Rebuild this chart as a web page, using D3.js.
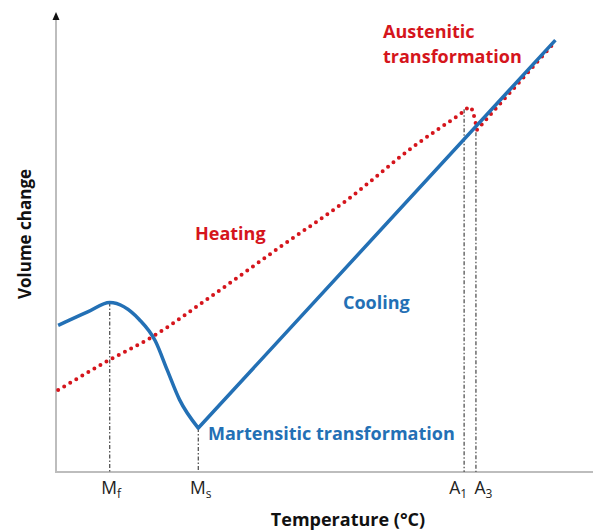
<!DOCTYPE html>
<html>
<head>
<meta charset="utf-8">
<script src="https://cdn.jsdelivr.net/npm/d3@7"></script>
<style>
  html, body { margin: 0; padding: 0; background: #fff; }
  svg { display: block; }
  text { font-family: "Open Sans", Lato, sans-serif; }
</style>
</head>
<body>
<svg id="chart" width="593" height="530"></svg>
<script>
// Dilatometry curve: specimen volume versus temperature (arbitrary units 0–100)

// Cooling branch: martensite finish peak, drop to martensite start, then linear contraction
const coolingCurveT = [0.4, 6, 10, 15.5, 18.5, 20.7, 23, 26.5];
const coolingCurveV = [32, 35, 37, 33.3, 28.6, 22.3, 15.8, 9.6];
const coolingLineT = [26.5, 93];
const coolingLineV = [9.6, 94.3];

// Heating branch: steady expansion up to the austenitic kink
const heatingCurveT = [0.4, 10, 17.9, 28.7, 41.7, 54.2, 66.5, 75.8, 77.1, 78.4];
const heatingCurveV = [17.9, 24.5, 29.5, 38.2, 49.1, 59.4, 71.0, 78.6, 79.7, 74.7];
// then linear expansion of austenite
const heatingLineT = [78.4, 92.9];
const heatingLineV = [74.7, 93.9];

// Characteristic temperatures on the temperature axis
const tickNames = ["M", "M", "A", "A"];
const tickSubs = ["f", "s", "1", "3"];
const tickTemps = [10, 26.5, 76, 78.2];
const tickTops = [37, 9.6, 79.2, 74.2];

const svg = d3.select("#chart");

const x = d3.scaleLinear().domain([0, 100]).range([56, 593]);
const y = d3.scaleLinear().domain([0, 100]).range([472, 14]);

const blue = "#2370b5";
const red = "#d5151c";

// Axes
svg.append("line")
  .attr("x1", x(0)).attr("x2", x(0))
  .attr("y1", y(0)).attr("y2", y(100) + 5)
  .attr("stroke", "#bdbdbd").attr("stroke-width", 2);
svg.append("path")
  .attr("d", `M${x(0)},${y(100) - 2} L${x(0) - 3.5},${y(100) + 6} L${x(0) + 3.5},${y(100) + 6} Z`)
  .attr("fill", "#111");
svg.append("line")
  .attr("x1", x(0) - 1).attr("x2", x(100))
  .attr("y1", y(0)).attr("y2", y(0))
  .attr("stroke", "#bdbdbd").attr("stroke-width", 2);

// Dash-dot guides at the characteristic temperatures
svg.append("g").selectAll("line")
  .data(tickTemps)
  .join("line")
  .attr("x1", d => x(d)).attr("x2", d => x(d))
  .attr("y1", (d, i) => y(tickTops[i])).attr("y2", y(0))
  .attr("stroke", "#555").attr("stroke-width", 1.3)
  .attr("stroke-dasharray", "4,2,1.5,2");

// Tick labels with subscripts; A1 sits left of its guide, A3 right of its guide
const tl = svg.append("g").selectAll("text")
  .data(tickTemps)
  .join("text")
  .attr("y", 494)
  .attr("font-size", 17.5)
  .attr("fill", "#222");
tl.append("tspan").text((d, i) => tickNames[i]);
tl.append("tspan").attr("font-size", 12).attr("dy", 4).text((d, i) => tickSubs[i]);
tl.each(function (d, i) {
  const t = d3.select(this);
  const mw = t.select("tspan").node().getComputedTextLength();
  if (i < 2) t.attr("x", x(d) - mw / 2 - 0.5);
  else if (i === 2) t.attr("x", x(d) + 3).attr("text-anchor", "end");
  else t.attr("x", x(d) - 1.5);
});

// Axis titles
svg.append("text")
  .attr("x", 348).attr("y", 526)
  .attr("text-anchor", "middle")
  .attr("font-size", 18).attr("font-weight", "bold").attr("fill", "#111")
  .text("Temperature (°C)");
svg.append("text")
  .attr("transform", "translate(31,234) rotate(-90)")
  .attr("text-anchor", "middle")
  .attr("font-size", 17).attr("font-weight", "bold").attr("fill", "#111")
  .text("Volume change");

// Heating curve (dotted)
const heatCurvePts = heatingCurveT.map((t, i) => [x(t), y(heatingCurveV[i])]);
const heatLinePts = heatingLineT.map((t, i) => [x(t), y(heatingLineV[i])]);
const heatPath = d3.line().curve(d3.curveMonotoneX)(heatCurvePts) + d3.line()(heatLinePts).replace(/^M/, "L");
svg.append("path")
  .attr("d", heatPath)
  .attr("fill", "none").attr("stroke", red)
  .attr("stroke-width", 4).attr("stroke-linecap", "round")
  .attr("stroke-dasharray", "0,7");

// Cooling curve (solid)
const coolCurvePts = coolingCurveT.map((t, i) => [x(t), y(coolingCurveV[i])]);
const coolLinePts = coolingLineT.map((t, i) => [x(t), y(coolingLineV[i])]);
const coolPath = d3.line().curve(d3.curveMonotoneX)(coolCurvePts) + d3.line()(coolLinePts).replace(/^M/, "L");
svg.append("path")
  .attr("d", coolPath)
  .attr("fill", "none").attr("stroke", blue)
  .attr("stroke-width", 3.5).attr("stroke-linejoin", "round");

// Annotations
const note = (tx, ty, txt, col) => svg.append("text")
  .attr("x", tx).attr("y", ty)
  .attr("font-size", 18).attr("font-weight", "bold").attr("fill", col)
  .text(txt);
note(383, 38, "Austenitic", red);
note(383, 63, "transformation", red);
note(195, 240, "Heating", red);
note(343, 309, "Cooling", blue);
note(208, 440, "Martensitic transformation", blue);
</script>
</body>
</html>
